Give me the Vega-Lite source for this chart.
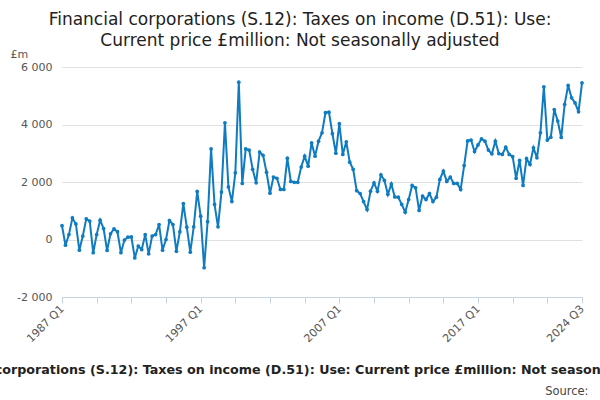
{
  "$schema": "https://vega.github.io/schema/vega-lite/v6.json",
  "autosize": {"type": "none"},
  "width": 520,
  "height": 230,
  "padding": {"left": 62, "top": 67, "right": 18, "bottom": 103},
  "background": "white",
  "config": {
    "view": {"stroke": null},
    "font": "DejaVu Sans"
  },
  "title": {
    "text": ["Financial corporations (S.12): Taxes on income (D.51): Use:", "Current price £million: Not seasonally adjusted"],
    "fontSize": 17,
    "fontWeight": "normal",
    "font": "DejaVu Sans",
    "color": "#222222",
    "anchor": "middle",
    "dx": -22,
    "lineHeight": 21,
    "offset": -2
  },
  "data": {
    "values": [
      {"quarter": "1987 Q1", "value": 480}, {"quarter": "1987 Q2", "value": -200}, {"quarter": "1987 Q3", "value": 170}, {"quarter": "1987 Q4", "value": 750},
      {"quarter": "1988 Q1", "value": 540}, {"quarter": "1988 Q2", "value": -370}, {"quarter": "1988 Q3", "value": 120}, {"quarter": "1988 Q4", "value": 720},
      {"quarter": "1989 Q1", "value": 640}, {"quarter": "1989 Q2", "value": -460}, {"quarter": "1989 Q3", "value": 170}, {"quarter": "1989 Q4", "value": 670},
      {"quarter": "1990 Q1", "value": 380}, {"quarter": "1990 Q2", "value": -380}, {"quarter": "1990 Q3", "value": 200}, {"quarter": "1990 Q4", "value": 370},
      {"quarter": "1991 Q1", "value": 270}, {"quarter": "1991 Q2", "value": -460}, {"quarter": "1991 Q3", "value": -20}, {"quarter": "1991 Q4", "value": 80},
      {"quarter": "1992 Q1", "value": 90}, {"quarter": "1992 Q2", "value": -640}, {"quarter": "1992 Q3", "value": -230}, {"quarter": "1992 Q4", "value": -350},
      {"quarter": "1993 Q1", "value": 170}, {"quarter": "1993 Q2", "value": -500}, {"quarter": "1993 Q3", "value": 120}, {"quarter": "1993 Q4", "value": 170},
      {"quarter": "1994 Q1", "value": 520}, {"quarter": "1994 Q2", "value": -370}, {"quarter": "1994 Q3", "value": 0}, {"quarter": "1994 Q4", "value": 660},
      {"quarter": "1995 Q1", "value": 520}, {"quarter": "1995 Q2", "value": -410}, {"quarter": "1995 Q3", "value": 270}, {"quarter": "1995 Q4", "value": 1250},
      {"quarter": "1996 Q1", "value": 430}, {"quarter": "1996 Q2", "value": -440}, {"quarter": "1996 Q3", "value": 440}, {"quarter": "1996 Q4", "value": 1670},
      {"quarter": "1997 Q1", "value": 810}, {"quarter": "1997 Q2", "value": -980}, {"quarter": "1997 Q3", "value": 620}, {"quarter": "1997 Q4", "value": 3150},
      {"quarter": "1998 Q1", "value": 1220}, {"quarter": "1998 Q2", "value": 440}, {"quarter": "1998 Q3", "value": 1650}, {"quarter": "1998 Q4", "value": 4060},
      {"quarter": "1999 Q1", "value": 1830}, {"quarter": "1999 Q2", "value": 1320}, {"quarter": "1999 Q3", "value": 2320}, {"quarter": "1999 Q4", "value": 5470},
      {"quarter": "2000 Q1", "value": 1950}, {"quarter": "2000 Q2", "value": 3150}, {"quarter": "2000 Q3", "value": 3110}, {"quarter": "2000 Q4", "value": 2440},
      {"quarter": "2001 Q1", "value": 1970}, {"quarter": "2001 Q2", "value": 3040}, {"quarter": "2001 Q3", "value": 2930}, {"quarter": "2001 Q4", "value": 2340},
      {"quarter": "2002 Q1", "value": 1610}, {"quarter": "2002 Q2", "value": 2170}, {"quarter": "2002 Q3", "value": 2130}, {"quarter": "2002 Q4", "value": 1740},
      {"quarter": "2003 Q1", "value": 1740}, {"quarter": "2003 Q2", "value": 2830}, {"quarter": "2003 Q3", "value": 2020}, {"quarter": "2003 Q4", "value": 1990},
      {"quarter": "2004 Q1", "value": 1990}, {"quarter": "2004 Q2", "value": 2520}, {"quarter": "2004 Q3", "value": 2900}, {"quarter": "2004 Q4", "value": 2550},
      {"quarter": "2005 Q1", "value": 3360}, {"quarter": "2005 Q2", "value": 2900}, {"quarter": "2005 Q3", "value": 3420}, {"quarter": "2005 Q4", "value": 3710},
      {"quarter": "2006 Q1", "value": 4410}, {"quarter": "2006 Q2", "value": 4430}, {"quarter": "2006 Q3", "value": 3680}, {"quarter": "2006 Q4", "value": 3000},
      {"quarter": "2007 Q1", "value": 4030}, {"quarter": "2007 Q2", "value": 2960}, {"quarter": "2007 Q3", "value": 3400}, {"quarter": "2007 Q4", "value": 2690},
      {"quarter": "2008 Q1", "value": 2440}, {"quarter": "2008 Q2", "value": 1700}, {"quarter": "2008 Q3", "value": 1600}, {"quarter": "2008 Q4", "value": 1320},
      {"quarter": "2009 Q1", "value": 1040}, {"quarter": "2009 Q2", "value": 1680}, {"quarter": "2009 Q3", "value": 1970}, {"quarter": "2009 Q4", "value": 1680},
      {"quarter": "2010 Q1", "value": 2250}, {"quarter": "2010 Q2", "value": 2060}, {"quarter": "2010 Q3", "value": 1570}, {"quarter": "2010 Q4", "value": 1930},
      {"quarter": "2011 Q1", "value": 1480}, {"quarter": "2011 Q2", "value": 1470}, {"quarter": "2011 Q3", "value": 1220}, {"quarter": "2011 Q4", "value": 950},
      {"quarter": "2012 Q1", "value": 1390}, {"quarter": "2012 Q2", "value": 1880}, {"quarter": "2012 Q3", "value": 1800}, {"quarter": "2012 Q4", "value": 1010},
      {"quarter": "2013 Q1", "value": 1510}, {"quarter": "2013 Q2", "value": 1390}, {"quarter": "2013 Q3", "value": 1600}, {"quarter": "2013 Q4", "value": 1320},
      {"quarter": "2014 Q1", "value": 1470}, {"quarter": "2014 Q2", "value": 2090}, {"quarter": "2014 Q3", "value": 2380}, {"quarter": "2014 Q4", "value": 2020},
      {"quarter": "2015 Q1", "value": 2170}, {"quarter": "2015 Q2", "value": 1950}, {"quarter": "2015 Q3", "value": 1950}, {"quarter": "2015 Q4", "value": 1740},
      {"quarter": "2016 Q1", "value": 2570}, {"quarter": "2016 Q2", "value": 3430}, {"quarter": "2016 Q3", "value": 3460}, {"quarter": "2016 Q4", "value": 3060},
      {"quarter": "2017 Q1", "value": 3290}, {"quarter": "2017 Q2", "value": 3500}, {"quarter": "2017 Q3", "value": 3420}, {"quarter": "2017 Q4", "value": 3110},
      {"quarter": "2018 Q1", "value": 2980}, {"quarter": "2018 Q2", "value": 3420}, {"quarter": "2018 Q3", "value": 2990}, {"quarter": "2018 Q4", "value": 2960},
      {"quarter": "2019 Q1", "value": 3210}, {"quarter": "2019 Q2", "value": 2960}, {"quarter": "2019 Q3", "value": 2880}, {"quarter": "2019 Q4", "value": 2130},
      {"quarter": "2020 Q1", "value": 2750}, {"quarter": "2020 Q2", "value": 1880}, {"quarter": "2020 Q3", "value": 2810}, {"quarter": "2020 Q4", "value": 2610},
      {"quarter": "2021 Q1", "value": 3190}, {"quarter": "2021 Q2", "value": 2840}, {"quarter": "2021 Q3", "value": 3710}, {"quarter": "2021 Q4", "value": 5310},
      {"quarter": "2022 Q1", "value": 3460}, {"quarter": "2022 Q2", "value": 3560}, {"quarter": "2022 Q3", "value": 4520}, {"quarter": "2022 Q4", "value": 4120},
      {"quarter": "2023 Q1", "value": 3550}, {"quarter": "2023 Q2", "value": 4700}, {"quarter": "2023 Q3", "value": 5360}, {"quarter": "2023 Q4", "value": 4930},
      {"quarter": "2024 Q1", "value": 4750}, {"quarter": "2024 Q2", "value": 4440}, {"quarter": "2024 Q3", "value": 5450}
    ]
  },
  "encoding": {
    "x": {
      "field": "quarter",
      "type": "ordinal",
      "sort": null,
      "scale": {"type": "point", "padding": 0},
      "axis": {
        "values": ["1987 Q1", "1989 Q3", "1992 Q1", "1994 Q3", "1997 Q1", "1999 Q3", "2002 Q1", "2004 Q3", "2007 Q1", "2009 Q3", "2012 Q1", "2014 Q3", "2017 Q1", "2019 Q3", "2022 Q1", "2024 Q3"],
        "labelExpr": "indexof(['1987 Q1','1997 Q1','2007 Q1','2017 Q1','2024 Q3'], datum.label) >= 0 ? datum.label : ''",
        "labelAngle": -45,
        "labelAlign": "right",
        "labelBaseline": "middle",
        "labelFontSize": 11,
        "labelColor": "#555555",
        "labelPadding": 4,
        "domainColor": "#c5d3e3",
        "tickColor": "#c5d3e3",
        "tickSize": 6,
        "grid": false,
        "title": "Financial corporations (S.12): Taxes on income (D.51): Use: Current price £million: Not seasonally adjusted",
        "titleFontSize": 12.7,
        "titleFontWeight": "bold",
        "titleColor": "#222222",
        "titleX": 247,
        "titleY": 76,
        "titleAlign": "center",
        "titleBaseline": "alphabetic",
        "titleAnchor": null
      }
    }
  },
  "layer": [
    {
      "mark": {"type": "line", "color": "#0f7bc0", "strokeWidth": 2},
      "encoding": {
        "y": {
          "field": "value",
          "type": "quantitative",
          "scale": {"domain": [-2000, 6000], "nice": false, "zero": false},
          "axis": {
            "values": [-2000, 0, 2000, 4000, 6000],
            "labelExpr": "(datum.value < 0 ? '-' : '') + replace(format(abs(datum.value), ','), ',', ' ')",
            "domain": false,
            "ticks": false,
            "gridColor": "#e0e0e0",
            "labelFontSize": 11,
            "labelColor": "#555555",
            "labelPadding": 10,
            "title": "£m",
            "titleAngle": 0,
            "titleFontSize": 11,
            "titleFontWeight": "normal",
            "titleColor": "#555555",
            "titleX": -52,
            "titleY": -10,
            "titleAlign": "left",
            "titleBaseline": "alphabetic"
          }
        }
      }
    },
    {
      "mark": {"type": "point", "filled": true, "color": "#0f7bc0", "size": 14, "opacity": 1},
      "encoding": {
        "y": {
          "field": "value",
          "type": "quantitative",
          "scale": {"domain": [-2000, 6000], "nice": false, "zero": false},
          "axis": {
            "orient": "right",
            "labels": false,
            "ticks": false,
            "domain": false,
            "grid": false,
            "title": "Source:",
            "titleAngle": 0,
            "titleFontSize": 11.5,
            "titleFontWeight": "normal",
            "titleColor": "#444444",
            "titleX": 6,
            "titleY": 327,
            "titleAlign": "right",
            "titleBaseline": "alphabetic"
          }
        }
      }
    }
  ],
  "resolve": {"scale": {"y": "independent"}, "axis": {"y": "independent"}}
}
